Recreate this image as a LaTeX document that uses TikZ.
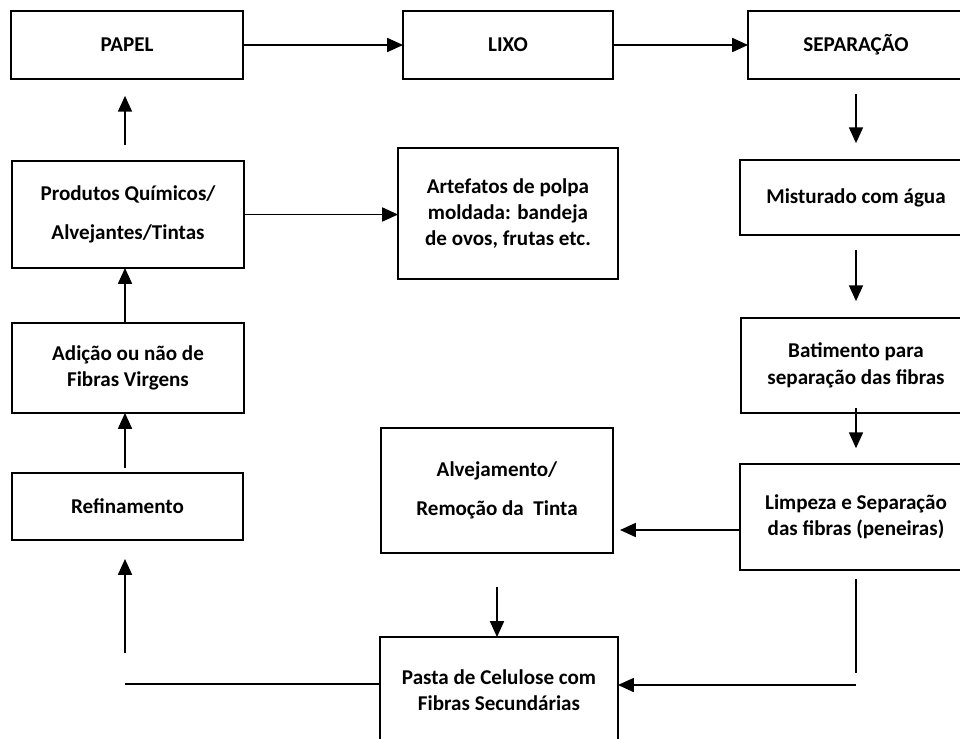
\documentclass[tikz,border=0pt]{standalone}
\usepackage{fontspec}
\setmainfont{Carlito}
\usetikzlibrary{arrows.meta}

\begin{document}
\begin{tikzpicture}[
x=0.02cm, y=-0.02cm,
  box/.style = {rectangle, draw, line width=0.8pt,% boxes of the flow chart
                align=center, inner sep=0pt, outer sep=0pt,
                font=\fontsize{12}{15}\selectfont\bfseries},
   sz/.style 2 args = {minimum width=#1cm, minimum height=#2cm},
  arr/.style = {line width=0.8pt, -{Triangle[length=9pt,width=8pt]}},
  lin/.style = {line width=0.8pt},
                    ]
\useasboundingbox (0,0) rectangle (960,738);
% top row
\node[box,sz={4.64}{1.36}] (papel) at (127,45)  {PAPEL};
\node[box,sz={4.2}{1.36}]  (lixo)  at (508,45)  {LIXO};
\node[box,sz={4.32}{1.36}] (sep)   at (856,45)  {SEPARAÇÃO};
% left column
\node[box,sz={4.64}{2.14}] (prod)  at (128,214.5) {Produtos Químicos/\\[7pt]Alvejantes/Tintas};
\node[box,sz={4.64}{1.8}]  (adic)  at (128,368)   {Adição ou não de\\Fibras Virgens};
\node[box,sz={4.62}{1.34}] (ref)   at (127.5,506.5) {Refinamento};
% middle
\node[box,sz={4.4}{2.62}]  (art)   at (508,213.5) {Artefatos de polpa\\moldada: bandeja\\de ovos, frutas etc.};
\node[box,sz={4.64}{2.5}]  (alv)   at (497,490.5) {Alvejamento/\\[7pt]Remoção da\ \ Tinta};
\node[box,sz={4.76}{2.12}] (pasta) at (499,690)   {Pasta de Celulose com\\Fibras Secundárias};
% right column
\node[box,sz={4.64}{1.5}]  (mist)  at (856,197.5) {Misturado com água};
\node[box,sz={4.6}{1.9}]   (bat)   at (856,365.5) {Batimento para\\separação das fibras};
\node[box,sz={4.64}{2.12}] (limp)  at (856,517)   {Limpeza e Separação\\das fibras (peneiras)};

\coordinate (spine) at (125,0);
\coordinate (dropR) at (856,685);
\coordinate (dropL) at (125,684);

\draw[arr] (papel.east) -- (lixo.west);
\draw[arr] (lixo.east) -- (sep.west);
\draw[arr, shorten <=8.5pt, shorten >=9.6pt] (sep.south) -- (mist.north);
\draw[arr, shorten <=8.5pt, shorten >=9.6pt] (mist.south) -- (bat.north);
\draw[arr, shorten <=-2.8pt, shorten >=9pt] (bat.south) -- (limp.north);
\draw[arr, shorten >=4pt] ([yshift=-7.4pt]limp.west) coordinate (l) -- (l -| alv.east);
\draw[lin, shorten <=5pt, shorten >=6.8pt] (limp.south) -- (dropR);
\draw[arr] (dropR) -- (dropR -| pasta.east);
\draw[arr, shorten <=19.3pt] (alv.south) -- (alv.south |- pasta.north);
\draw[lin] (dropL -| pasta.west) -- (dropL);
\draw[arr, shorten <=17.6pt, shorten >=10.8pt] (dropL) -- (dropL |- ref.south);
\draw[arr, shorten <=2.8pt] (ref.north -| spine) -- (adic.south -| spine);
\draw[arr] (adic.north -| spine) -- (prod.south -| spine);
\draw[arr, shorten <=9pt, shorten >=9.6pt] (prod.north -| spine) -- (papel.south -| spine);
\draw[arr] (prod.east) -- (prod.east -| art.west);
\end{tikzpicture}
\end{document}
